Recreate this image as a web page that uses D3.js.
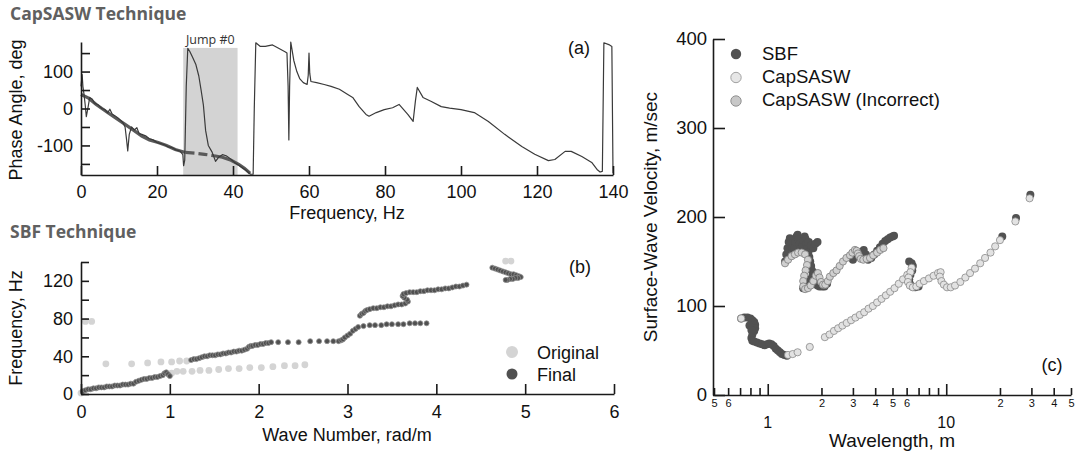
<!DOCTYPE html>
<html><head><meta charset="utf-8">
<script src="https://cdn.jsdelivr.net/npm/d3@7"></script>
<style>
body{margin:0;background:#fff}
svg{display:block}
text{font-family:"Liberation Sans",Arial,sans-serif}
</style>
</head><body>
<svg id="c" width="1075" height="456"></svg>
<script>
// ---------- Panel (a): CapSASW phase ----------
const aFreq = [0,0.3,0.5,0.8,1.1,1.4,1.8,2.3,3,3.5,4.5,5.5,6.3,7,7.6,8.2,9,10,11,11.6,12,12.3,12.7,13.3,14,14.7,15.3,16,17,18,19,20,21,22,23,24,25,26,26.8,27,27.3,27.7,28.1,28.6,29.3,30.2,31,31.6,32.2,32.8,33.5,34.5,35.4,36.2,37.2,38.2,39.2,40.5,42,43.5,44.6,45.3,45.6,46,47.2,48.5,50.4,52,53.8,54.2,54.5,54.7,54.9,55.2,56,56.8,57.6,58.5,59.5,59.8,60,60.2,60.5,62,64,65.8,68,70.2,71.5,73.2,75,75.8,77.7,79.8,82,83.7,86,87.4,88,88.5,90,92.2,94.8,97,100,103.5,107.2,111.5,116,119.4,123,124.7,127.4,129,131.8,134.4,135.8,136.6,137.2,137.6,138.9,139.7,140];
const aPhase = [60,92,60,38,10,-22,0,30,25,15,10,0,-3,-12,-2,-15,-20,-28,-38,-50,-85,-115,-70,-50,-58,-52,-68,-70,-74,-82,-85,-92,-95,-98,-104,-106,-112,-115,-125,-155,-140,60,163,155,140,120,88,50,10,-60,-100,-118,-143,-132,-125,-128,-135,-147,-157,-168,-178,-178,0,178,168,168,172,163,153,150,60,-85,60,180,130,100,80,70,65,90,150,95,73,70,65,60,52,38,30,5,-16,-21,-11,-3,2,11,-16,-35,20,57,30,19,5,1,-3,-11,-35,-70,-103,-124,-141,-138,-116,-116,-130,-146,-165,-172,-170,178,173,168,-175];
const fitFreq = [0,2,4,7,9,11.6,14,16,18,20.3,22.5,24.8,27.5];
const fitPhase = [38,28,11,-11,-25,-43,-60,-75,-85,-92,-100,-111,-119];
const gapFreq = [27.5,30,32.5,35];
const gapPhase = [-119,-121,-124,-128];
const fit2Freq = [35,37.2,39.5,41.5,43,44.5];
const fit2Phase = [-128,-132,-140,-151,-162,-175];
const jumpRange = [26.9, 41.2];
const jumpTop = 164;
const aXTicks = [0,20,40,60,80,100,120,140];
const aYTicks = [-150,-100,-50,0,50,100,150];
const aYLabels = ["","-100","","0","","100",""];

// ---------- Panel (b): SBF ----------
const origK = [0.0,0.05,0.12,0.28,0.57,0.75,0.90,1.02,1.11,1.19,1.02,1.08,1.15,1.25,1.34,1.44,1.55,1.66,1.78,1.90,2.03,2.16,2.29,2.41,2.52,4.78,4.84];
const origF = [1,77,77,32,32,33,34,34,35,35,22,24,24,24,25,25,26,27,27,28,28,29,30,30,31,141,141];
const finalK = [0.02,0.05,0.08,0.11,0.14,0.17,0.20,0.23,0.26,0.29,0.32,0.35,0.38,0.41,0.44,0.47,0.50,0.53,0.56,0.59,0.62,0.65,0.68,0.71,0.74,0.77,0.80,0.83,0.86,0.89,0.92,0.94,0.96,0.98,1.00,
  1.24,1.27,1.30,1.33,1.36,1.39,1.42,1.45,1.48,1.51,1.54,1.57,1.60,1.63,1.66,1.69,1.72,1.75,1.78,1.81,1.84,1.87,1.89,1.91,1.93,1.96,1.99,2.02,2.05,2.08,2.11,2.14,
  2.22,2.33,2.45,2.58,2.68,2.77,2.84,
  2.90,2.93,2.95,2.97,3.00,3.03,3.06,3.09,
  3.12,3.18,3.25,3.31,3.38,3.44,3.50,3.57,3.63,3.70,3.76,3.82,3.89,
  3.14,3.16,3.18,3.20,3.22,3.25,3.29,3.33,3.37,3.41,3.45,3.49,3.53,3.57,3.61,3.65,3.68,3.67,3.64,3.62,3.63,3.66,3.70,3.74,3.78,3.82,3.86,3.90,3.94,3.98,4.02,4.06,4.10,4.14,4.18,4.22,4.26,4.30,4.34,
  4.63,4.66,4.69,4.72,4.75,4.78,4.81,4.84,4.87,4.90,4.93,4.95,4.92,4.89,4.86,4.83,4.80,4.78];
const finalF = [3,4,5,5,6,6,7,7,7,8,8,8,9,9,9,10,10,10,11,11,13,14,15,16,16,17,17,18,18,19,20,22,23,21,19,
  36,37,37,38,39,40,40,41,41,41,42,42,43,43,44,44,45,45,46,46,47,48,50,51,51,52,52,53,53,54,54,55,
  55,55,55,56,56,56,56,
  56,57,58,60,62,64,67,69,
  71,72,73,73,73,74,74,74,74,75,75,75,75,
  83,85,86,88,89,90,91,91,92,92,93,93,94,95,95,96,98,100,102,104,106,107,108,108,108,109,109,110,110,110,111,111,112,112,113,114,114,115,116,
  134,133,132,131,130,129,128,127,127,126,125,124,123,123,122,122,121,121];
const bXTicks = [0,1,2,3,4,5,6];
const bYTicks = [0,20,40,60,80,100,120,140];
const bYLabels = ["0","","40","","80","","120",""];
const bLegend = ["Original","Final"];

// ---------- Panel (c): dispersion ----------
const sbfLambda = [0.71,0.74,0.77,0.80,0.82,0.84,0.85,0.85,0.84,0.82,0.81,0.82,0.84,0.87,0.90,0.93,0.96,0.99,1.02,1.05,1.08,1.11,1.14,1.17,1.20,1.24,1.28,0.79,0.81,
  1.25,1.27,1.29,1.31,1.33,1.35,1.37,1.39,1.41,1.43,1.45,1.47,1.49,1.51,1.53,1.55,1.57,1.59,1.61,1.63,1.65,1.67,1.69,1.71,1.73,1.75,1.77,1.80,1.83,1.86,1.90,1.95,1.70,1.75,1.80,1.85,1.90,
  1.58,1.62,1.66,1.70,1.74,1.78,1.82,1.87,1.92,1.97,2.02,2.08,2.15,
  3.0,3.15,3.3,3.45,3.55,3.65,3.8,3.95,4.1,4.25,4.4,4.55,4.7,4.85,5.0,5.1,
  6.2,6.4,6.5,6.45,6.3,6.2,6.25,6.45,6.7,7.0,
  20.6,24.6,29.6];
const sbfVel = [86,87,87,86,84,82,79,75,72,68,64,61,60,59,58,57,56,57,58,57,55,52,50,48,46,45,44,78,73,
  150,158,165,172,176,170,165,160,165,172,178,180,175,170,165,162,168,174,178,175,170,165,160,155,150,145,140,135,130,126,123,122,172,168,165,170,172,
  120,120,122,126,130,134,137,133,128,124,122,122,125,
  152,156,160,163,158,152,154,158,162,166,170,173,175,177,178,179,
  150,148,145,140,135,130,125,122,121,122,
  178,199,225];
const capLambda = [0.71,1.30,1.38,1.47,1.72,2.09,2.22,2.35,2.48,2.62,2.77,2.93,3.1,3.28,3.47,3.67,3.88,4.1,4.34,4.59,4.85,5.13,5.42,5.73,6.05,6.4,6.3,6.15,6.1,6.25,6.5,6.8,7.1,7.5,8.0,8.5,9.0,9.3,9.2,9.4,9.7,10.1,10.6,11.2,12.0,12.8,13.6,14.5,15.5,16.5,17.7,18.8,20.0,24.4,29.3];
const capVel = [86,45,46,48,54,65,68,72,75,78,81,84,87,90,93,97,100,104,108,112,116,120,125,130,135,143,138,132,127,123,121,122,125,128,131,134,137,138,133,128,124,121,121,123,127,132,137,142,148,154,160,167,174,195,221];
const incLambda = [1.25,1.3,1.36,1.42,1.48,1.55,1.62,1.68,1.66,1.63,1.60,1.58,1.58,1.62,1.68,1.74,1.80,1.86,1.91,1.95,1.99,2.04,2.10,2.17,2.23,2.33,2.43,2.53,2.64,2.76,2.89,2.98,3.08,3.15,3.2,3.25,3.32,3.43,3.58,3.74,3.9,4.1,4.27,4.45];
const incVel = [148,152,156,158,160,160,158,152,146,140,134,128,122,119,120,123,128,134,137,132,127,124,124,128,133,137,140,145,150,154,157,160,163,162,159,156,153,152,153,154,157,160,163,165];
const cXTicks = [0.5,0.6,0.7,0.8,0.9,1,2,3,4,5,6,7,8,9,10,20,30,40,50];
const cXLabels = ["5","6","","","","","2","3","4","5","6","","","","","2","3","4","5"];
const cXMajor = [1,10];
const cXMajorLabels = ["1","10"];
const cYTicks = [0,100,200,300,400];
const cLegend = ["SBF","CapSASW","CapSASW (Incorrect)"];

// ---------- drawing ----------
const svg = d3.select("#c");
const AX = "#1a1a1a";
const FONT = "'Liberation Sans', Arial, sans-serif";
function styleAxis(g, fs){
  g.attr("font-family", FONT).attr("font-size", fs);
  g.select(".domain").attr("stroke", AX).attr("stroke-width", 1.6);
  g.selectAll(".tick line").attr("stroke", AX).attr("stroke-width", 1.6);
  g.selectAll(".tick text").attr("fill", "#111");
}
function title(txt, x, y){
  svg.append("text").attr("x", x).attr("y", y).text(txt)
    .style("font-family", "'Open Sans','Noto Sans',sans-serif").style("font-weight", "700")
    .style("font-size", "17.5px").attr("fill", "#606060");
}
function label(txt, x, y, fs, rot, anchor){
  const t = svg.append("text").text(txt).attr("font-size", fs).attr("fill", "#111")
    .attr("text-anchor", anchor || "middle");
  if (rot) t.attr("transform", `translate(${x},${y}) rotate(-90)`);
  else t.attr("x", x).attr("y", y);
  return t;
}

// Panel (a)
const xA = d3.scaleLinear([0,140],[81,613]);
const yA = d3.scaleLinear([-180,180],[175,42]);
svg.append("rect").attr("x", xA(jumpRange[0])).attr("width", xA(jumpRange[1]) - xA(jumpRange[0]))
  .attr("y", yA(jumpTop)).attr("height", yA(-180) - yA(jumpTop)).attr("fill", "#d3d3d3");
svg.append("text").attr("x", (xA(jumpRange[0]) + xA(jumpRange[1]))/2).attr("y", 44)
  .attr("text-anchor","middle").style("font-family","'Open Sans','Noto Sans',sans-serif")
  .style("font-size","12.5px").attr("fill","#333").text("Jump #0");
const lineA = d3.line().x(d => xA(d[0])).y(d => yA(d[1]));
svg.append("path").datum(d3.zip(fitFreq, fitPhase)).attr("d", lineA)
  .attr("fill","none").attr("stroke","#5a5a5a").attr("stroke-width",3.2);
svg.append("path").datum(d3.zip(gapFreq, gapPhase)).attr("d", lineA)
  .attr("fill","none").attr("stroke","#5a5a5a").attr("stroke-width",3.2).attr("stroke-dasharray","9,4");
svg.append("path").datum(d3.zip(fit2Freq, fit2Phase)).attr("d", lineA)
  .attr("fill","none").attr("stroke","#5a5a5a").attr("stroke-width",3.2);
svg.append("path").datum(d3.zip(aFreq, aPhase)).attr("d", lineA)
  .attr("fill","none").attr("stroke","#3a3a3a").attr("stroke-width",1.2).attr("stroke-linejoin","round");
svg.append("g").attr("transform","translate(0,175)")
  .call(d3.axisBottom(xA).tickValues(aXTicks).tickFormat(d3.format("d")).tickSize(-9).tickSizeOuter(0).tickPadding(10))
  .call(g => styleAxis(g, 18));
svg.append("g").attr("transform","translate(81,0)")
  .call(d3.axisLeft(yA).tickValues(aYTicks).tickFormat((d,i) => aYLabels[i]).tickSize(-9).tickSizeOuter(0).tickPadding(8))
  .call(g => styleAxis(g, 18));
title("CapSASW Technique", 10, 20);
label("Frequency, Hz", 347, 219, 18);
label("Phase Angle, deg", 22, 110, 18, true);
label("(a)", 579, 54, 18);

// Panel (b)
const xB = d3.scaleLinear([0,6],[81,614]);
const yB = d3.scaleLinear([0,140],[394,262]);
svg.append("g").selectAll("circle").data(d3.zip(origK, origF)).join("circle")
  .attr("cx", d => xB(d[0])).attr("cy", d => yB(d[1])).attr("r", 3.4).attr("fill", "#d4d4d4");
svg.append("g").selectAll("circle").data(d3.zip(finalK, finalF)).join("circle")
  .attr("cx", d => xB(d[0])).attr("cy", d => yB(d[1])).attr("r", 2.5)
  .attr("fill", "#505050").attr("stroke","#8f8f8f").attr("stroke-width",0.8);
svg.append("g").attr("transform","translate(0,394)")
  .call(d3.axisBottom(xB).tickValues(bXTicks).tickFormat(d3.format("d")).tickSize(-10).tickSizeOuter(0).tickPadding(11))
  .call(g => styleAxis(g, 18));
svg.append("g").attr("transform","translate(81,0)")
  .call(d3.axisLeft(yB).tickValues(bYTicks).tickFormat((d,i) => bYLabels[i]).tickSize(-8).tickSizeOuter(0).tickPadding(8))
  .call(g => styleAxis(g, 18));
title("SBF Technique", 10, 238);
label("Wave Number, rad/m", 347, 441, 18);
label("Frequency, Hz", 22, 328, 18, true);
label("(b)", 580, 273, 18);
svg.append("circle").attr("cx",512).attr("cy",352).attr("r",6).attr("fill","#d4d4d4");
svg.append("circle").attr("cx",512).attr("cy",374).attr("r",5.5).attr("fill","#505050");
label(bLegend[0], 537, 359, 18, false, "start");
label(bLegend[1], 537, 381, 18, false, "start");

// Panel (c)
const xC = d3.scaleLog([0.5,50],[714,1071]);
const yC = d3.scaleLinear([0,400],[395,39]);
svg.append("g").selectAll("circle").data(d3.zip(sbfLambda, sbfVel)).join("circle")
  .attr("cx", d => xC(d[0])).attr("cy", d => yC(d[1])).attr("r", 4).attr("fill", "#525252");
svg.append("g").selectAll("circle").data(d3.zip(capLambda, capVel)).join("circle")
  .attr("cx", d => xC(d[0])).attr("cy", d => yC(d[1])).attr("r", 3.6)
  .attr("fill", "#e2e2e2").attr("stroke","#8a8a8a").attr("stroke-width",0.8);
svg.append("g").selectAll("circle").data(d3.zip(incLambda, incVel)).join("circle")
  .attr("cx", d => xC(d[0])).attr("cy", d => yC(d[1])).attr("r", 3.6)
  .attr("fill", "#d0d0d0").attr("stroke","#7e7e7e").attr("stroke-width",0.8);
const gx = svg.append("g").attr("transform","translate(0,395)")
  .call(d3.axisBottom(xC).tickValues(cXTicks).tickFormat((d,i) => cXLabels[i]).tickSize(-7).tickSizeOuter(0).tickPadding(4))
  .call(g => styleAxis(g, 11));
gx.selectAll(".tick").filter(d => cXMajor.includes(d)).select("line").attr("y2", -11);
cXMajor.forEach((v,i) => label(cXMajorLabels[i], xC(v), 428, 16));
svg.append("g").attr("transform","translate(713,0)")
  .call(d3.axisLeft(yC).tickValues(cYTicks).tickSize(-12).tickSizeOuter(0).tickPadding(6))
  .call(g => styleAxis(g, 18.5));
label("Wavelength, m", 892, 447, 19);
label("Surface-Wave Velocity, m/sec", 657, 217, 19, true);
label("(c)", 1052, 371, 18);
const legC = [{f:"#525252",s:"none"},{f:"#e6e6e6",s:"#999"},{f:"#c8c8c8",s:"#888"}];
cLegend.forEach((t,i) => {
  svg.append("circle").attr("cx",736).attr("cy",54 + i*23.5).attr("r",5.2)
    .attr("fill",legC[i].f).attr("stroke",legC[i].s).attr("stroke-width",0.9);
  label(t, 762, 60 + i*23.2, 18.5, false, "start");
});
</script>
</body></html>
